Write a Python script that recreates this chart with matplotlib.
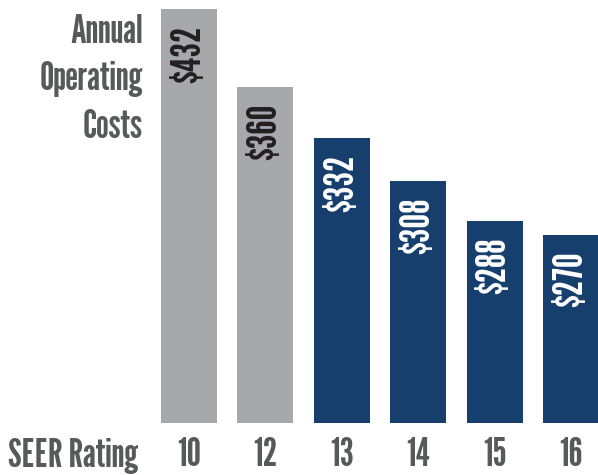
import matplotlib
matplotlib.use("Agg")
import matplotlib.pyplot as plt

# SEER ratings and yearly costs shown on the chart
seer = ['10', '12', '13', '14', '15', '16']
costs = [432, 360, 332, 308, 288, 270]
# bar heights as drawn (relative, tallest = 100) -- not proportional to cost
bar_heights = [100, 81.2, 68.8, 58.5, 48.8, 45.4]

GRAY = '#a7a8ac'
NAVY = '#173f6e'
TEXT = '#58595b'

plt.rcParams['font.family'] = ['League Gothic', 'DejaVu Sans']

fig = plt.figure(figsize=(5.98, 4.75), dpi=100)
ax = fig.add_axes([161 / 598, 1 - 423 / 475, 438 / 598, 414 / 475])

x = list(range(len(seer)))
colors = [GRAY if int(s) < 13 else NAVY for s in seer]
bars = ax.bar(x, bar_heights, width=0.733, color=colors)

for rect, cost, col in zip(bars, costs, colors):
    ax.annotate('$%d' % cost, (rect.get_x() + rect.get_width() / 2, rect.get_height()),
                xytext=(0, -12), textcoords='offset points',
                rotation=90, ha='center', va='top', fontsize=30,
                color='#231f20' if col == GRAY else 'white')

ax.set_xlim(-0.367, 5.367)
ax.set_ylim(0, 100)
ax.set_xticks(x)
ax.set_xticklabels(seer, fontsize=29, color=TEXT)
ax.tick_params(axis='x', length=0, pad=10)
ax.set_yticks([])
for s in ax.spines.values():
    s.set_visible(False)

for line, base in zip(['Annual', 'Operating', 'Costs'], [43, 90, 138]):
    fig.text(143 / 598, 1 - base / 475, line, ha='right', va='baseline',
             fontsize=29, color=TEXT)
fig.text(8 / 598, 1 - 467 / 475, 'SEER Rating', ha='left', va='baseline',
         fontsize=29, color=TEXT)

fig.savefig('out.png', dpi=100)
